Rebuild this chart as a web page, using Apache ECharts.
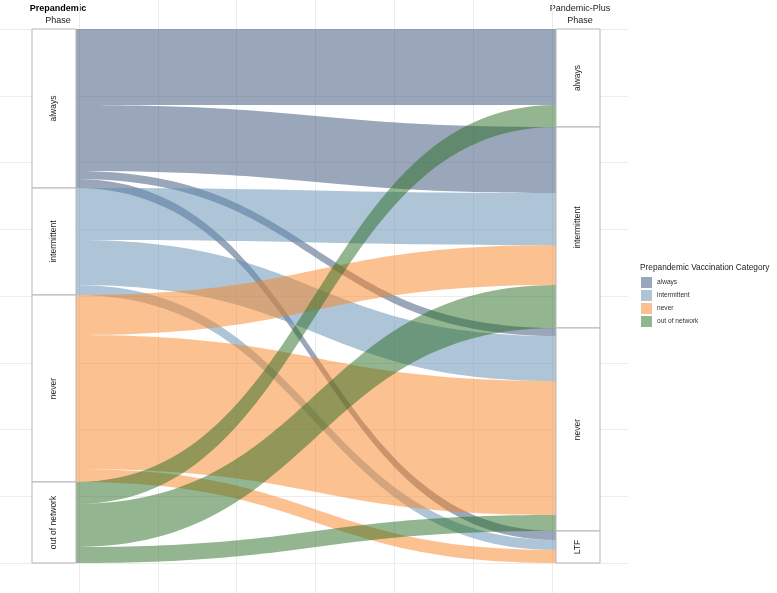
<!DOCTYPE html>
<html>
<head>
<meta charset="utf-8">
<script src="https://cdn.jsdelivr.net/npm/echarts@6/dist/echarts.min.js"></script>
<style>html,body{margin:0;padding:0;background:#fff}#c{width:777px;height:593px}</style>
</head>
<body>
<div id="c"></div>
<script>
// ---- data ----
const prePhase = ['always', 'intermittent', 'never', 'out of network'];
const postPhase = ['always', 'intermittent', 'never', 'LTF'];
const flowFrom = ['always','always','always','always',
                  'intermittent','intermittent','intermittent',
                  'never','never','never',
                  'out of network','out of network','out of network'];
const flowTo   = ['always','intermittent','never','LTF',
                  'intermittent','never','LTF',
                  'intermittent','never','LTF',
                  'always','intermittent','never'];
const flowValue = [76, 66, 8, 9,
                   52, 45, 10,
                   40, 134, 13,
                   22, 43, 16];
const legendTitle = 'Prepandemic Vaccination Category';
const phaseTitles = [['Prepandemic', 'Phase'], ['Pandemic-Plus', 'Phase']];

// ---- styles ----
const baseColor = {
  'always': '#354d73',
  'intermittent': '#5d8bb1',
  'never': '#f98321',
  'out of network': '#276b21'
};
const keyColor = {
  'always': '#9aa6b9',
  'intermittent': '#aec5d8',
  'never': '#fcc190',
  'out of network': '#93b590'
};
const FONT = 'Liberation Sans, Arial, sans-serif';

const nodes = [];
prePhase.forEach(n => nodes.push({name: 'Pre|' + n, depth: 0}));
postPhase.forEach(n => nodes.push({name: 'Post|' + n, depth: 1}));
const links = flowFrom.map((f, i) => ({
  source: 'Pre|' + f,
  target: 'Post|' + flowTo[i],
  value: flowValue[i],
  lineStyle: {color: baseColor[f], opacity: 0.5}
}));

const chart = echarts.init(document.getElementById('c'), null, {renderer: 'canvas'});
const gridLine = {show: true, lineStyle: {color: '#ececec', width: 1}};

const option = {
  animation: false,
  backgroundColor: '#fff',
  textStyle: {fontFamily: FONT},
  title: {
    text: legendTitle,
    left: 640, top: 264, padding: 0,
    textStyle: {fontSize: 8.3, fontWeight: 'normal', color: '#222', fontFamily: FONT}
  },
  legend: {
    orient: 'vertical',
    left: 641, top: 277, padding: 0,
    icon: 'rect',
    itemWidth: 11, itemHeight: 11, itemGap: 2,
    textStyle: {fontSize: 6.6, color: '#333', fontFamily: FONT},
    data: prePhase
  },
  grid: [
    {left: 0, width: 631, top: 0, bottom: 0, show: false},
    {left: 0, right: 149, top: 29, bottom: 30, show: false}
  ],
  xAxis: [
    {gridIndex: 0, type: 'value', min: -1, max: 7, interval: 1,
     axisLine: {show: false}, axisTick: {show: false}, axisLabel: {show: false},
     splitLine: Object.assign({showMinLine: false, showMaxLine: false}, gridLine)},
    {gridIndex: 1, type: 'value', min: 0, max: 1,
     axisLine: {show: false}, axisTick: {show: false}, axisLabel: {show: false},
     splitLine: {show: false}}
  ],
  yAxis: [
    {gridIndex: 0, type: 'value', min: 0, max: 1,
     axisLine: {show: false}, axisTick: {show: false}, axisLabel: {show: false},
     splitLine: {show: false}},
    {gridIndex: 1, type: 'value', min: 0, max: 8, interval: 1,
     axisLine: {show: false}, axisTick: {show: false}, axisLabel: {show: false},
     splitLine: gridLine}
  ],
  graphic: [
    {type: 'text', x: 58, y: 4, style: {text: phaseTitles[0][0], fill: '#000', align: 'center', font: 'bold 9px ' + FONT}},
    {type: 'text', x: 58, y: 16, style: {text: phaseTitles[0][1], fill: '#222', align: 'center', font: '9px ' + FONT}},
    {type: 'text', x: 580, y: 4, style: {text: phaseTitles[1][0], fill: '#222', align: 'center', font: '9px ' + FONT}},
    {type: 'text', x: 580, y: 16, style: {text: phaseTitles[1][1], fill: '#222', align: 'center', font: '9px ' + FONT}}
  ],
  series: prePhase.map(n => ({
    type: 'bar', name: n, xAxisIndex: 0, yAxisIndex: 0, data: [],
    itemStyle: {color: keyColor[n]}
  })).concat([{
    type: 'sankey',
    left: 32, right: 177, top: 29, bottom: 30,
    nodeWidth: 44,
    nodeGap: 0,
    layoutIterations: 0,
    draggable: false,
    emphasis: {disabled: true},
    itemStyle: {color: '#fff', borderColor: '#b5b5b5', borderWidth: 1},
    lineStyle: {curveness: 0.5},
    label: {
      show: true, position: 'inside', rotate: 90,
      fontSize: 8.5, color: '#222', fontFamily: FONT,
      formatter: p => p.name.split('|')[1]
    },
    data: nodes,
    links: links,
    z: 5
  }])
};
chart.setOption(option);
</script>
</body>
</html>
